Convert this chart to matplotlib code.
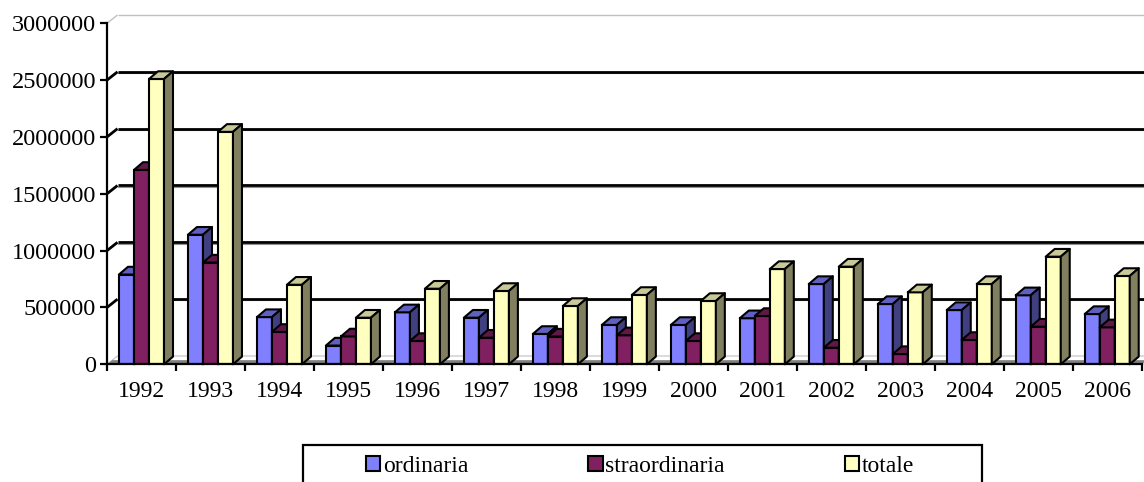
import matplotlib.pyplot as plt
import numpy as np
from matplotlib.patches import Polygon, Rectangle, Patch

plt.rcParams['font.family'] = ['Liberation Serif', 'DejaVu Serif']

anni = ['1992', '1993', '1994', '1995', '1996', '1997', '1998', '1999',
        '2000', '2001', '2002', '2003', '2004', '2005', '2006']
ordinaria = [790000, 1140000, 415000, 165000, 457000, 410000, 267000, 346000,
             346000, 405000, 706000, 530000, 477000, 607000, 442000]
straordinaria = [1710000, 895000, 285000, 245000, 205000, 234000, 244000, 255000,
                 205000, 425000, 146000, 90000, 214000, 331000, 325000]
totale = [2510000, 2045000, 700000, 410000, 665000, 645000, 513000, 610000,
          557000, 838000, 859000, 633000, 706000, 947000, 777000]
serie = ['ordinaria', 'straordinaria', 'totale']
yticks = np.arange(0, 3000001, 500000)

# colours: front, top, side
colori = [('#8080ff', '#6060c0', '#404080'),
          ('#802060', '#601848', '#401030'),
          ('#ffffc0', '#c8c898', '#808060')]

W, H = 1144, 482
x_l, x_r, y_t, y_b = 107, 1141.7, 23.3, 364.3
n = len(anni)
ymax = 3000000

fig = plt.figure(figsize=(W / 100, H / 100), dpi=100)
ax = fig.add_axes([x_l / W, 1 - y_b / H, (x_r - x_l) / W, (y_b - y_t) / H])
ax.set_xlim(0, n)
ax.set_ylim(0, ymax)

px2x = n / (x_r - x_l)
px2y = ymax / (y_b - y_t)
bw = 15 * px2x
bdx, bdy = 9 * px2x, 7.7 * px2y
wdx, wdy = 10.5 * px2x, 8.3 * px2y

# back wall gridlines
for v in yticks[1:]:
    c = '#c0c0c0' if v == ymax else 'black'
    lw = 1.0 if v == ymax else 2.0
    ax.plot([0, wdx], [v, v + wdy], color=c, lw=lw, clip_on=False, zorder=1,
            solid_capstyle='butt')
    ax.plot([wdx, n + 1], [v + wdy, v + wdy], color=c, lw=lw, clip_on=False, zorder=1,
            solid_capstyle='butt')
    if v != ymax:
        ax.plot([wdx, n + 1], [v + wdy - 1.2 * px2y] * 2, color='#909090', lw=0.8,
                clip_on=False, zorder=0.9)

# floor
ax.add_patch(Polygon([(0, 0), (n, 0), (n + wdx, wdy), (wdx, wdy)], closed=True,
                     fc='white', ec='#c0c0c0', lw=0.8, clip_on=False, zorder=1.5))
ax.add_patch(Polygon([(0, 0), (n, 0), (n + wdx * 0.5, wdy * 0.5), (wdx * 0.5, wdy * 0.5)],
                     closed=True, fc='#808080', ec='none', clip_on=False, zorder=1.6))

x = np.arange(n) + 0.5
for k, vals in enumerate([ordinaria, straordinaria, totale]):
    fc, tc, sc = colori[k]
    z = 3 + k
    x0 = x + (k - 1.5) * bw
    ax.bar(x0, vals, width=bw, align='edge', color=fc, edgecolor='black',
           linewidth=1.5, zorder=z)
    for xi, h in zip(x0, vals):
        top = [(xi, h), (xi + bdx, h + bdy), (xi + bw + bdx, h + bdy), (xi + bw, h)]
        side = [(xi + bw, 0), (xi + bw + bdx, bdy), (xi + bw + bdx, h + bdy), (xi + bw, h)]
        ax.add_patch(Polygon(top, closed=True, fc=tc, ec='black', lw=1.5,
                             joinstyle='round', clip_on=False, zorder=z))
        ax.add_patch(Polygon(side, closed=True, fc=sc, ec='black', lw=1.5,
                             joinstyle='round', clip_on=False, zorder=z))

for s in ['top', 'right']:
    ax.spines[s].set_visible(False)
for s in ['left', 'bottom']:
    ax.spines[s].set_linewidth(1.6)
    ax.spines[s].set_zorder(10)

ax.set_yticks(yticks)
ax.set_yticklabels([str(v) for v in yticks], fontsize=17.5)
ax.tick_params(axis='y', direction='out', length=5, width=1.6, pad=3)
ax.set_xticks(np.arange(n + 1))
ax.set_xticklabels([])
ax.set_xticks(x, minor=True)
ax.set_xticklabels(anni, minor=True, fontsize=17)
ax.tick_params(axis='x', which='major', direction='out', length=5, width=1.6)
ax.tick_params(axis='x', which='minor', length=0, pad=12)

# legend
fig.patches.append(Rectangle((303 / W, -0.05), (982 - 303) / W, (H - 445) / H + 0.05,
                             transform=fig.transFigure, fill=False, ec='black', lw=1.6))
handles = [Patch(fc=colori[k][0], ec='black', lw=1.5) for k in range(3)]
fig.legend(handles, serie, ncol=3, frameon=False, loc='center',
           bbox_to_anchor=(640 / W, 1 - 466 / H), columnspacing=5.1,
           handlelength=0.6, handleheight=0.6, handletextpad=0.1, fontsize=17)

fig.savefig('out.png', dpi=100)
